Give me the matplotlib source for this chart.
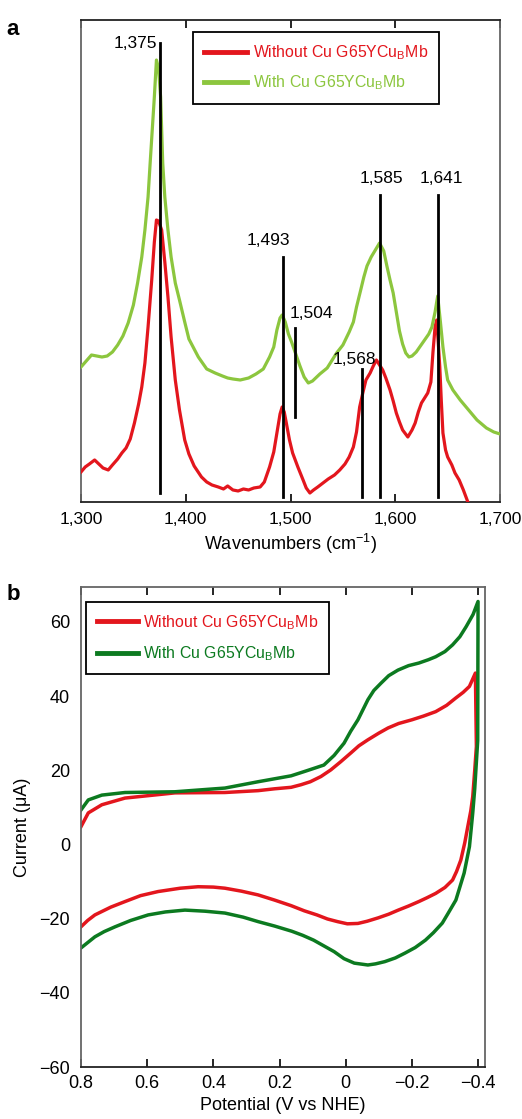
import matplotlib
matplotlib.use('Agg')
import matplotlib.pyplot as plt

plt.rcParams['font.family'] = ['Liberation Sans', 'DejaVu Sans']
plt.rcParams['mathtext.fontset'] = 'custom'
plt.rcParams['mathtext.rm'] = 'Liberation Sans'
plt.rcParams['mathtext.it'] = 'Liberation Sans'

RED = '#e3161d'
LIME = '#8cc63e'
DKGREEN = '#0c7a20'

# panel a: resonance Raman spectra (arbitrary intensity units)
wn_with = [1300, 1305, 1310, 1315, 1320, 1325, 1330, 1335, 1340, 1345, 1350, 1354, 1358, 1361,
           1364, 1366, 1368, 1370, 1372, 1374, 1376, 1378, 1380, 1383, 1386, 1390, 1394, 1399,
           1403, 1407, 1412, 1420, 1428, 1435, 1440, 1445, 1452, 1460, 1467, 1474, 1480, 1484,
           1487, 1490, 1492, 1495, 1498, 1501, 1505, 1509, 1513, 1517, 1521, 1528, 1535, 1544,
           1550, 1556, 1560, 1563, 1567, 1570, 1573, 1577, 1581, 1585, 1589, 1592, 1595, 1598,
           1601, 1604, 1607, 1610, 1613, 1616, 1620, 1624, 1628, 1632, 1635, 1638, 1640.5, 1643,
           1645.5, 1648, 1650, 1655, 1662, 1670, 1678, 1687, 1694, 1700]
int_with = [135, 141, 147, 146, 145, 146, 150, 157, 166, 179, 197, 219, 245, 272,
            305, 339, 372, 405, 442, 434, 405, 339, 305, 272, 245, 219, 202, 180,
            163, 155, 145, 133, 129, 126, 124, 123, 122, 124, 128, 133, 145, 155,
            172, 184, 187, 180, 168, 160, 148, 136, 125, 119, 121, 128, 134, 149,
            157, 170, 180, 195, 212, 225, 236, 245, 252, 259, 251, 236, 222, 209,
            190, 171, 158, 149, 145, 146, 150, 156, 162, 168, 175, 190, 206, 181,
            155, 135, 122, 112, 102, 92, 82, 74, 70, 68]

wn_without = [1300, 1304, 1308, 1313, 1317, 1321, 1326, 1330, 1335, 1339, 1343, 1347, 1351, 1355,
              1358, 1361, 1364, 1367.5, 1370, 1372, 1374, 1377, 1380, 1383, 1386, 1390, 1394, 1399,
              1403, 1408, 1415, 1420, 1425, 1431, 1436, 1440, 1445, 1450, 1455, 1460, 1465, 1471,
              1475, 1480, 1484, 1487, 1490, 1492, 1494, 1496, 1499, 1502, 1507, 1512, 1515, 1518.5,
              1522, 1526, 1531, 1536, 1542, 1547, 1552, 1556, 1560, 1563, 1566, 1569, 1572, 1576,
              1579, 1582, 1585, 1588, 1591, 1595, 1598, 1601, 1604, 1607, 1612, 1616, 1619, 1622,
              1625, 1628, 1631, 1634, 1636, 1638, 1639.5, 1641, 1642.5, 1644, 1645.5, 1648, 1650,
              1654, 1657, 1661, 1665, 1670]
int_without = [30, 35, 38, 42, 38, 34, 32, 37, 43, 49, 54, 63, 79, 98,
               115, 139, 175, 222, 260, 282, 281, 272, 240, 205, 165, 122, 92, 62,
               48, 36, 25, 20, 17, 15, 13, 16, 12, 11, 13, 12, 14, 15,
               20, 35, 50, 69, 88, 95, 90, 79, 62, 49, 35, 22, 14, 9,
               12, 15, 19, 23, 27, 32, 38, 45, 55, 70, 95, 109, 122, 129,
               136, 142, 137, 132, 124, 112, 101, 89, 80, 72, 65, 72, 79, 90,
               99, 104, 109, 120, 150, 175, 182, 160, 135, 100, 69, 52, 45,
               37, 29, 22, 12, -2]

peak_pos = [1375, 1493, 1504, 1568, 1585, 1641]
peak_labels = ['1,375', '1,493', '1,504', '1,568', '1,585', '1,641']
peak_top = [459, 245, 174, 133, 307, 307]
peak_bottom = [9, 5, 85, 5, 5, 5]

# panel b: cyclic voltammograms, potential (V vs NHE) and current (uA)
pot_without = [0.8, 0.778, 0.737, 0.667, 0.516, 0.365, 0.265, 0.215, 0.165, 0.135, 0.107,
               0.075, 0.045, 0.015, -0.016, -0.04, -0.067, -0.1, -0.128, -0.16, -0.2,
               -0.235, -0.272, -0.305, -0.333, -0.355, -0.374, -0.392, -0.395, -0.39, -0.384,
               -0.378, -0.369, -0.36, -0.348, -0.335, -0.323, -0.3, -0.272, -0.245, -0.221,
               -0.19, -0.159, -0.13, -0.098, -0.065, -0.037, -0.005, 0.025, 0.055, 0.087,
               0.125, 0.165, 0.215, 0.265, 0.315, 0.365, 0.4, 0.446, 0.5, 0.567,
               0.62, 0.667, 0.71, 0.758, 0.78, 0.8]
cur_without = [4.8, 8.5, 10.7, 12.5, 13.9, 14.0, 14.5, 15.0, 15.4, 16.1, 16.9,
               18.3, 20.1, 22.3, 24.7, 26.6, 28.2, 30.0, 31.4, 32.6, 33.6,
               34.6, 35.8, 37.5, 39.5, 41.0, 42.6, 46.2, 26.4, 20.0, 12.9,
               9.0, 4.8, 0.5, -4.2, -7.3, -9.6, -11.6, -13.2, -14.4, -15.4,
               -16.6, -17.7, -18.8, -19.8, -20.7, -21.3, -21.4, -20.8, -20.1, -19.0,
               -17.9, -16.5, -15.0, -13.6, -12.6, -11.8, -11.5, -11.4, -11.8, -12.7,
               -13.8, -15.4, -16.9, -19.0, -20.5, -22.2]

pot_with = [0.8, 0.778, 0.737, 0.667, 0.516, 0.365, 0.265, 0.165, 0.12, 0.066, 0.035,
            0.005, -0.015, -0.037, -0.067, -0.085, -0.107, -0.13, -0.158, -0.19, -0.221,
            -0.25, -0.272, -0.3, -0.323, -0.345, -0.364, -0.385, -0.4, -0.399, -0.39,
            -0.384, -0.374, -0.358, -0.345, -0.333, -0.31, -0.292, -0.265, -0.241, -0.21,
            -0.179, -0.15, -0.118, -0.09, -0.067, -0.026, 0.005, 0.035, 0.065, 0.097,
            0.13, 0.163, 0.215, 0.265, 0.31, 0.365, 0.425, 0.486, 0.545, 0.597,
            0.65, 0.697, 0.73, 0.758, 0.8]
cur_with = [9.3, 12.0, 13.3, 14.0, 14.2, 15.2, 16.9, 18.5, 19.8, 21.4, 24.0,
            27.3, 30.5, 33.6, 39.0, 41.5, 43.5, 45.5, 47.0, 48.2, 48.9,
            49.8, 50.6, 52.0, 53.8, 56.0, 58.7, 62.0, 65.5, 28.0, 15.0,
            8.5, -0.6, -7.7, -11.5, -15.0, -18.5, -21.2, -23.8, -25.8, -27.8,
            -29.3, -30.6, -31.6, -32.2, -32.5, -32.0, -30.8, -28.9, -27.4, -25.8,
            -24.5, -23.4, -22.0, -20.8, -19.6, -18.5, -18.0, -17.7, -18.2, -19.0,
            -20.5, -22.2, -23.5, -24.9, -27.9]

label_without = 'Without Cu G65YCu$_\\mathregular{B}$Mb'
label_with = 'With Cu G65YCu$_\\mathregular{B}$Mb'

fig = plt.figure(figsize=(5.22, 11.19), dpi=100)
ax1 = fig.add_axes([0.1552, 0.5514, 0.8027, 0.4307])
ax2 = fig.add_axes([0.1552, 0.04647, 0.7739, 0.42895])

# ---- panel a
ax1.plot(wn_without, int_without, color=RED, lw=2.3, label=label_without, zorder=3)
ax1.plot(wn_with, int_with, color=LIME, lw=2.3, label=label_with, zorder=3)
for pos, top, bot in zip(peak_pos, peak_top, peak_bottom):
    ax1.plot([pos, pos], [bot, top], color='black', lw=2.0, zorder=4)
ax1.text(1373, 459, peak_labels[0], ha='right', va='center', fontsize=12.5)
ax1.text(1479, 262, peak_labels[1], ha='center', va='center', fontsize=12.5)
ax1.text(1499, 189, peak_labels[2], ha='left', va='center', fontsize=12.5)
ax1.text(1561, 142, peak_labels[3], ha='center', va='center', fontsize=12.5)
ax1.text(1587, 324, peak_labels[4], ha='center', va='center', fontsize=12.5)
ax1.text(1644, 324, peak_labels[5], ha='center', va='center', fontsize=12.5)

ax1.set_xlim(1300, 1700)
ax1.set_ylim(0, 482)
ax1.set_xticks([1300, 1400, 1500, 1600, 1700])
ax1.set_xticklabels(['1,300', '1,400', '1,500', '1,600', '1,700'])
ax1.set_yticks([])
ax1.tick_params(axis='x', direction='in', length=6, width=1.2, top=True, labelsize=12.5, pad=7)
ax1.set_xlabel('Wavenumbers (cm$^{\\mathregular{-1}}$)', fontsize=13, labelpad=4)
for side in ['left', 'right']:
    ax1.spines[side].set_color('#666666')
for side in ['top', 'bottom']:
    ax1.spines[side].set_color('#222222')
for s in ax1.spines.values():
    s.set_linewidth(1.3)
leg1 = ax1.legend(loc='upper left', bbox_to_anchor=(0.267, 0.975), borderaxespad=0,
                  fontsize=11.4, handlelength=2.7, handletextpad=0.4, labelspacing=0.75,
                  borderpad=0.7, fancybox=False, framealpha=1, edgecolor='black',
                  labelcolor='linecolor')
leg1.get_frame().set_linewidth(1.3)
for ln in leg1.get_lines():
    ln.set_linewidth(3.5)

# ---- panel b
ax2.plot(pot_without, cur_without, color=RED, lw=2.5, label=label_without)
ax2.plot(pot_with, cur_with, color=DKGREEN, lw=2.5, label=label_with)
ax2.set_xlim(0.8, -0.421)
ax2.set_ylim(-60, 69.4)
ax2.set_xticks([0.8, 0.6, 0.4, 0.2, 0, -0.2, -0.4])
ax2.set_xticklabels(['0.8', '0.6', '0.4', '0.2', '0', '\u22120.2', '\u22120.4'])
ax2.set_yticks([60, 40, 20, 0, -20, -40, -60])
ax2.set_yticklabels(['60', '40', '20', '0', '\u221220', '\u221240', '\u221260'])
ax2.tick_params(axis='x', direction='in', length=6, width=1.2, top=True, labelsize=13, pad=6)
ax2.tick_params(axis='y', length=0, labelsize=13, pad=8)
ax2.set_xlabel('Potential (V vs NHE)', fontsize=13, labelpad=3)
ax2.set_ylabel('Current (\u03bcA)', fontsize=13, labelpad=6)
for side in ['left', 'right', 'top']:
    ax2.spines[side].set_color('#666666')
ax2.spines['bottom'].set_color('#222222')
for s in ax2.spines.values():
    s.set_linewidth(1.3)
leg2 = ax2.legend(loc='upper left', bbox_to_anchor=(0.0124, 0.969), borderaxespad=0,
                  fontsize=11.4, handlelength=2.6, handletextpad=0.3, labelspacing=0.8,
                  borderpad=0.7, fancybox=False, framealpha=1, edgecolor='black',
                  labelcolor='linecolor')
leg2.get_frame().set_linewidth(1.3)
for ln in leg2.get_lines():
    ln.set_linewidth(3.5)

fig.text(0.012, 0.983, 'a', fontsize=16, fontweight='bold', va='top')
fig.text(0.012, 0.478, 'b', fontsize=16, fontweight='bold', va='top')

fig.savefig('out.png', dpi=100)
